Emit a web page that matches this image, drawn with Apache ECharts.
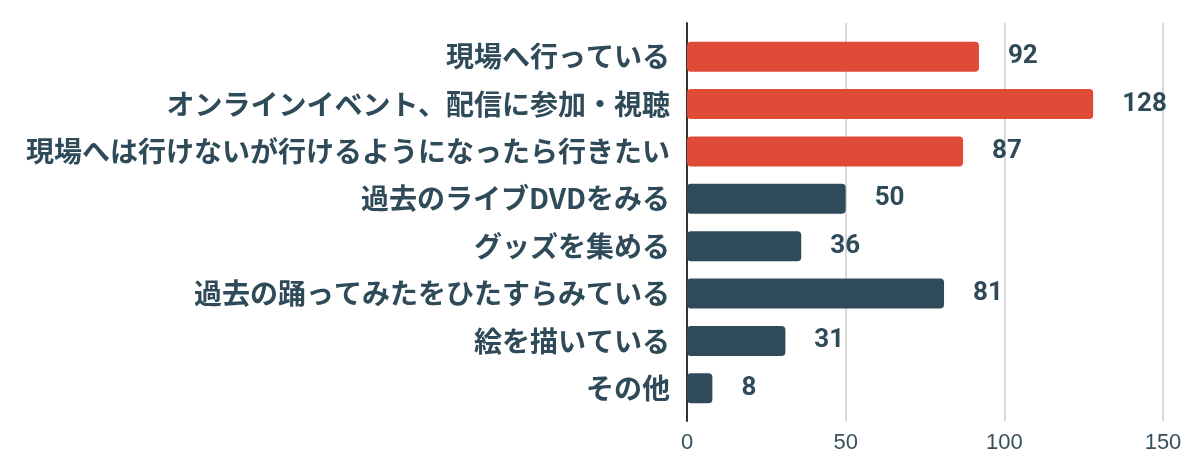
<!DOCTYPE html>
<html><head><meta charset="utf-8">
<script src="https://cdn.jsdelivr.net/npm/echarts@6/dist/echarts.min.js"></script>
<style>html,body{margin:0;padding:0;background:#fff}#c{width:1200px;height:464px}</style>
</head><body><div id="c"></div>
<script>
const categories = ['現場へ行っている','オンラインイベント、配信に参加・視聴','現場へは行けないが行けるようになったら行きたい','過去のライブDVDをみる','グッズを集める','過去の踊ってみたをひたすらみている','絵を描いている','その他'];
const values = [92,128,87,50,36,81,31,8];
const xMin = 0, xMax = 150, xStep = 50;
const highlightCount = 3;

const chart = echarts.init(document.getElementById('c'));
const dark = '#2f4a58';
chart.setOption({
  animation:false,
  grid:[{left:687,right:37,top:23,bottom:43},{left:687,right:37,top:33,bottom:52}],
  xAxis:[
    {gridIndex:0,type:'value',min:xMin,max:xMax,interval:xStep,
     axisLine:{show:false},axisTick:{show:false},
     splitLine:{lineStyle:{color:'#cccccc',width:1.5}},
     axisLabel:{fontSize:22,color:'#37505c',margin:11,fontFamily:'Liberation Sans'}},
    {gridIndex:1,type:'value',min:xMin,max:xMax,interval:xStep,show:false}
  ],
  yAxis:[
    {gridIndex:0,type:'value',min:0,max:1,axisLabel:{show:false},splitLine:{show:false},axisTick:{show:false},
     axisLine:{show:true,lineStyle:{color:'#333333',width:2}}},
    {gridIndex:1,type:'category',data:categories,inverse:true,
     axisLine:{show:false},axisTick:{show:false},
     axisLabel:{fontSize:28,fontWeight:'bold',color:dark,margin:17,fontFamily:'Noto Sans CJK JP'}}
  ],
  series:[{
    type:'bar',xAxisIndex:1,yAxisIndex:1,data:values,barWidth:30,
    itemStyle:{borderRadius:4,color:p=>p.dataIndex<highlightCount?'#e04b38':'#2f4a58'},
    label:{show:true,position:'right',distance:29,fontSize:26,fontWeight:'bold',color:dark,fontFamily:'Roboto'}
  }]
});
</script></body></html>
